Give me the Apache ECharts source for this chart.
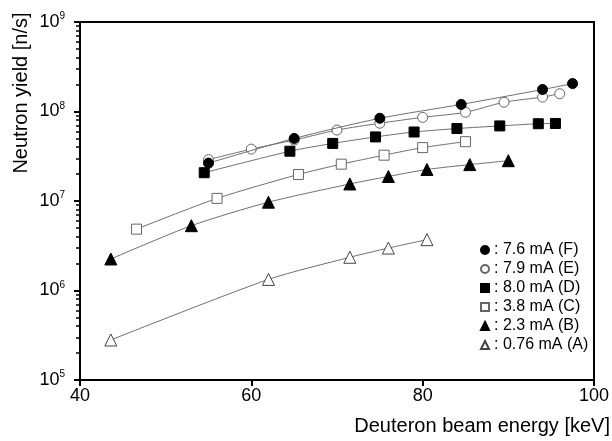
<!DOCTYPE html>
<html><head><meta charset="utf-8">
<script src="https://cdn.jsdelivr.net/npm/echarts@6/dist/echarts.min.js"></script>
<style>html,body{margin:0;padding:0;background:#fff}#c{width:612px;height:441px}</style>
</head><body><div id="c"></div>
<script>
// ---- data ----
const xF = [55.0, 65.0, 75.0, 84.5, 94.0, 97.5];
const yF = [2.65e7, 5.0e7, 8.4e7, 1.2e8, 1.76e8, 2.05e8];
const xE = [55.0, 60.0, 65.0, 70.0, 75.0, 80.0, 85.0, 89.5, 94.0, 96.0];
const yE = [2.9e7, 3.8e7, 4.8e7, 6.2e7, 7.4e7, 8.6e7, 9.8e7, 1.27e8, 1.45e8, 1.58e8];
const xD = [54.5, 64.5, 69.5, 74.5, 79.0, 84.0, 89.0, 93.5, 95.5];
const yD = [2.07e7, 3.6e7, 4.4e7, 5.2e7, 5.9e7, 6.45e7, 6.9e7, 7.3e7, 7.35e7];
const xC = [46.6, 56.0, 65.5, 70.5, 75.5, 80.0, 85.0];
const yC = [4.85e6, 1.07e7, 1.98e7, 2.58e7, 3.25e7, 3.95e7, 4.6e7];
const xB = [43.6, 53.0, 62.0, 71.5, 76.0, 80.5, 85.5, 90.0];
const yB = [2.25e6, 5.3e6, 9.7e6, 1.55e7, 1.88e7, 2.25e7, 2.55e7, 2.82e7];
const xA = [43.6, 62.0, 71.5, 76.0, 80.5];
const yA = [2.8e5, 1.33e6, 2.35e6, 2.98e6, 3.7e6];
const seriesNames = [': 7.6 mA (F)', ': 7.9 mA (E)', ': 8.0 mA (D)', ': 3.8 mA (C)', ': 2.3 mA (B)', ': 0.76 mA (A)'];
const xTicks = [40, 60, 80, 100];
const yDecades = [5, 6, 7, 8, 9];
const xTitle = 'Deuteron beam energy [keV]';
const yTitle = 'Neutron yield [n/s]';

const FONT = '"Liberation Sans", Arial, sans-serif';
const majorVals = yDecades.map(e => Math.pow(10, e));

function pts(xs, ys) { return xs.map((x, i) => [x, ys[i]]); }
const styles = [
  {sym: 'circle', size: 10, fill: '#000', border: '#000'},
  {sym: 'circle', size: 10, fill: '#fff', border: '#666'},
  {sym: 'rect', size: 10, fill: '#000', border: '#000'},
  {sym: 'rect', size: 10, fill: '#fff', border: '#666'},
  {sym: 'triangle', size: 12, fill: '#000', border: '#000'},
  {sym: 'triangle', size: 12, fill: '#fff', border: '#444'}
];
const datas = [pts(xF, yF), pts(xE, yE), pts(xD, yD), pts(xC, yC), pts(xB, yB), pts(xA, yA)];
const series = datas.map((d, i) => ({
  name: seriesNames[i], type: 'line', data: d, smooth: 0.25,
  symbol: styles[i].sym, symbolSize: styles[i].size, showSymbol: true,
  lineStyle: {color: '#707070', width: 1},
  itemStyle: {color: styles[i].fill, borderColor: styles[i].border, borderWidth: 1, opacity: 1},
  emphasis: {disabled: true}, z: 10 - i, animation: false
}));

const chart = echarts.init(document.getElementById('c'), null, {renderer: 'canvas'});
chart.setOption({
  animation: false,
  backgroundColor: '#fff',
  grid: {left: 80, top: 22, right: 15, bottom: 61, show: true, borderColor: '#000', borderWidth: 2, backgroundColor: 'transparent'},
  legend: {
    orient: 'vertical', left: 475, top: 237, itemGap: 3, itemWidth: 8, itemHeight: 8,
    data: seriesNames.map((n, i) => ({name: n, icon: styles[i].sym})),
    textStyle: {fontFamily: FONT, fontSize: 16, color: '#000'},
    selectedMode: false
  },
  xAxis: {
    type: 'value', min: xTicks[0], max: xTicks[xTicks.length - 1], interval: 20,
    axisLine: {lineStyle: {color: '#000', width: 2}},
    axisTick: {show: true, length: 6, lineStyle: {color: '#000', width: 2}},
    axisLabel: {fontFamily: FONT, fontSize: 18, color: '#000', margin: 7},
    splitLine: {show: false}
  },
  yAxis: {
    type: 'log', logBase: 10, min: majorVals[0], max: majorVals[majorVals.length - 1],
    axisLine: {lineStyle: {color: '#000', width: 2}},
    axisTick: {show: true, length: 6, lineStyle: {color: '#000', width: 2}},
    minorTick: {show: true, splitNumber: 9, length: 4, lineStyle: {color: '#000', width: 1.5}},
    axisLabel: {
      margin: 15,
      formatter: v => '{b|10}{s|' + Math.round(Math.log10(v)) + '}',
      rich: {
        b: {fontFamily: FONT, fontSize: 18, color: '#000'},
        s: {fontFamily: FONT, fontSize: 10, color: '#000', verticalAlign: 'bottom', padding: [0, 0, 11, 0]}
      }
    },
    splitLine: {show: false},
    minorSplitLine: {show: false}
  },
  graphic: [
    {type: 'text', x: 610, y: 426, style: {text: xTitle, font: '20px ' + FONT, fill: '#000', align: 'right', verticalAlign: 'middle'}},
    {type: 'text', x: 21, y: 93, rotation: Math.PI / 2, style: {text: yTitle, font: '20px ' + FONT, fill: '#000', align: 'center', verticalAlign: 'middle'}}
  ],
  series: series
});
</script></body></html>
